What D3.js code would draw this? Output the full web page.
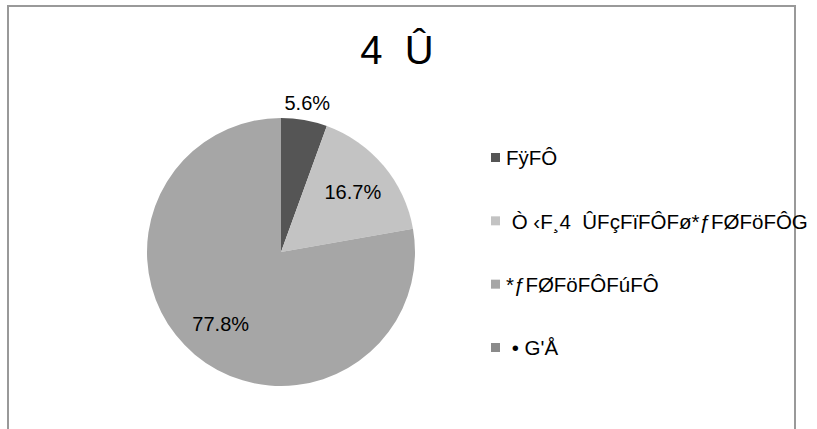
<!DOCTYPE html>
<html><head><meta charset="utf-8">
<script src="https://cdn.jsdelivr.net/npm/d3@7"></script>
<style>body{margin:0;background:#fff}svg{display:block}</style>
</head><body>
<script>
const title = "4\u00a0\u00a0Û";
const categories = ["FÿFÔ", " Ò ‹F¸4  ÛFçFïFÔFø*ƒFØFöFÔG", "*ƒFØFöFÔFúFÔ", " • G'Å"];
const values = [1, 3, 14, 0];
const labels = ["5.6%", "16.7%", "77.8%", ""];
const colors = ["#555555", "#c3c3c3", "#a6a6a6", "#8a8a8a"];

const W = 817, H = 429;
const FONT = "Liberation Sans, Arial, sans-serif";
const svg = d3.select("body").append("svg").attr("width", W).attr("height", H);
svg.append("rect").attr("x", 8).attr("y", 6).attr("width", 787).attr("height", 440)
  .attr("fill", "#fff").attr("stroke", "#999").attr("stroke-width", 2);

svg.append("text").attr("x", 397).attr("y", 64).attr("text-anchor", "middle")
  .attr("font-family", FONT).attr("font-size", 40)
  .style("white-space", "pre").text(title);

const cx = 281, cy = 252, r = 134;
const pie = d3.pie().sort(null).value(d => d)(values);
const arc = d3.arc().innerRadius(0).outerRadius(r);
const g = svg.append("g").attr("transform", `translate(${cx},${cy})`);
g.selectAll("path").data(pie).join("path").attr("d", arc).attr("fill", (d, i) => colors[i]);

const labelArc = d3.arc().innerRadius(r * 0.7).outerRadius(r * 0.7);
const outerArc = d3.arc().innerRadius(r * 1.13).outerRadius(r * 1.13);
g.selectAll("text.lbl").data(pie).join("text").attr("class", "lbl")
  .attr("transform", (d, i) => {
    const c = (d.endAngle - d.startAngle) < 0.5 ? outerArc.centroid(d) : labelArc.centroid(d);
    return `translate(${c})`;
  })
  .attr("text-anchor", "middle").attr("dy", "0.35em")
  .attr("font-family", FONT).attr("font-size", 20)
  .text((d, i) => labels[i]);

const legY = d3.scalePoint().domain(d3.range(categories.length)).range([158, 348]);
const lg = svg.append("g");
categories.forEach((c, i) => {
  lg.append("rect").attr("x", 491).attr("y", legY(i) - 5).attr("width", 9).attr("height", 9).attr("fill", colors[i]);
  lg.append("text").attr("x", 506).attr("y", legY(i)).attr("dy", "0.35em")
    .attr("font-family", FONT).attr("font-size", 20.5)
    .style("white-space", "pre").text(c);
});
</script>
</body></html>
